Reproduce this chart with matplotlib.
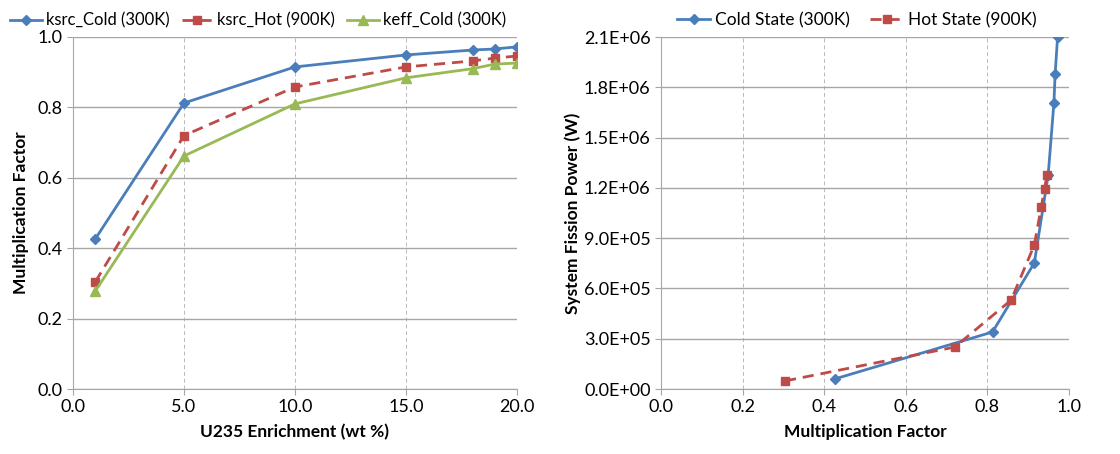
import matplotlib.pyplot as plt
from matplotlib.ticker import FuncFormatter, MultipleLocator

plt.rcParams['font.family'] = ['Lato', 'DejaVu Sans']

enrichment = [1, 5, 10, 15, 18, 19, 20]
ksrc_cold = [0.426, 0.8125, 0.915, 0.949, 0.963, 0.966, 0.972]
ksrc_hot = [0.304, 0.72, 0.858, 0.915, 0.932, 0.94, 0.946]
keff_cold = [0.278, 0.662, 0.81, 0.884, 0.91, 0.923, 0.926]

power_cold = [6.0e4, 3.4e5, 7.52e5, 1.277e6, 1.706e6, 1.879e6, 2.1e6]
power_hot = [4.8e4, 2.5e5, 5.3e5, 8.59e5, 1.086e6, 1.193e6, 1.277e6]

blue = '#4A7EBB'
red = '#BE4B48'
green = '#98B954'
grid_c = '#A6A6A6'

fig = plt.figure(figsize=(11.2, 4.54), dpi=100)
ax1 = fig.add_axes([73/1120, 1 - 389/454, 444/1120, 352/454])
ax2 = fig.add_axes([661/1120, 1 - 389/454, 408/1120, 352/454])


def style(ax):
    for s in ['top', 'right']:
        ax.spines[s].set_visible(False)
    for s in ['left', 'bottom']:
        ax.spines[s].set_color(grid_c)
    ax.tick_params(colors=grid_c, labelcolor='black', labelsize=13, length=4)
    ax.yaxis.grid(True, color=grid_c, linestyle='-', linewidth=1)
    ax.xaxis.grid(True, color='#B8B8B8', linestyle=(0, (4, 3)), linewidth=0.7)
    ax.set_axisbelow(True)


ax1.plot(enrichment, ksrc_cold, color=blue, lw=2, marker='D', ms=5,
         label='ksrc_Cold (300K)')
ax1.plot(enrichment, ksrc_hot, color=red, lw=2, ls=(0, (4, 2.5)), marker='s', ms=6,
         label='ksrc_Hot (900K)')
ax1.plot(enrichment, keff_cold, color=green, lw=2, marker='^', ms=7,
         label='keff_Cold (300K)')
ax1.set_xlim(0, 20)
ax1.set_ylim(0, 1.0)
ax1.xaxis.set_major_locator(MultipleLocator(5))
ax1.yaxis.set_major_locator(MultipleLocator(0.2))
ax1.xaxis.set_major_formatter(FuncFormatter(lambda v, p: f'{v:.1f}'))
ax1.yaxis.set_major_formatter(FuncFormatter(lambda v, p: f'{v:.1f}'))
ax1.set_xlabel('U235 Enrichment (wt %)', fontsize=12.5, fontweight='bold', labelpad=6)
ax1.set_ylabel('Multiplication Factor', fontsize=12.5, fontweight='bold', labelpad=6)
style(ax1)
ax1.legend(loc='lower center', bbox_to_anchor=(0.417, 1.0), ncol=3, frameon=False,
           fontsize=12, handlelength=1.9, handletextpad=0.25, columnspacing=0.7,
           borderaxespad=0.1)

ax2.plot(ksrc_cold, power_cold, color=blue, lw=2, marker='D', ms=5,
         label='Cold State (300K)')
ax2.plot(ksrc_hot, power_hot, color=red, lw=2, ls=(0, (4, 2.5)), marker='s', ms=6,
         label='Hot State (900K)')
ax2.set_xlim(0, 1.0)
ax2.set_ylim(0, 2.1e6)
ax2.xaxis.set_major_locator(MultipleLocator(0.2))
ax2.yaxis.set_major_locator(MultipleLocator(3e5))
ax2.xaxis.set_major_formatter(FuncFormatter(lambda v, p: f'{v:.1f}'))
ax2.yaxis.set_major_formatter(FuncFormatter(lambda v, p: f'{v:.1E}'))
ax2.set_xlabel('Multiplication Factor', fontsize=12.5, fontweight='bold', labelpad=6)
ax2.set_ylabel('System Fission Power (W)', fontsize=12.5, fontweight='bold', labelpad=2)
style(ax2)
ax2.legend(loc='lower center', bbox_to_anchor=(0.48, 1.0), ncol=2, frameon=False,
           fontsize=12.5, handlelength=1.9, handletextpad=0.25, columnspacing=1.2,
           borderaxespad=0.1)

fig.savefig('out.png', dpi=100)
